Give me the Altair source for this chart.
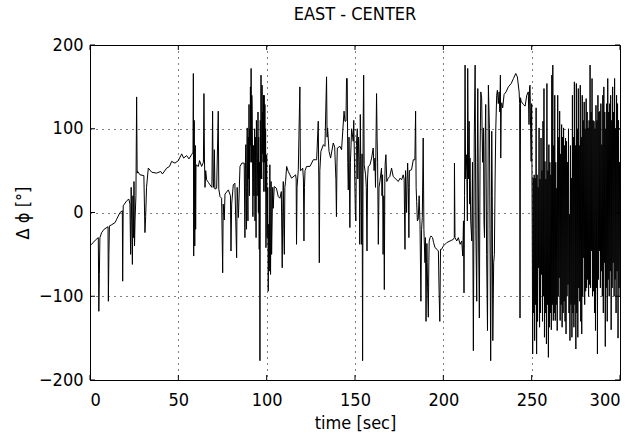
import altair as alt
import pandas as pd
import numpy as np

# ---- data (time in s, phase difference in degrees) ----
segA_t = [0, 0.9, 3, 4.7, 5.0, 5.3, 5.6, 6.6, 8, 10.2, 10.4, 10.7, 11.0, 12, 14.2, 15.1, 17, 18.3, 18.5, 18.8,
          20.8, 22.0, 22.6, 23.0, 23.3, 23.6, 24.0, 24.3, 24.6, 24.9, 25.2, 25.5, 26.0, 26.4, 26.7, 27, 28.3, 30.5, 31.1, 31.5,
          32, 33, 35, 37.7, 40, 41, 43.4, 45, 46.2, 48.1]
segA_v = [-40, -38, -33, -30, -118, -74, -30, -24, -20, -17, -106, -50, -16, -15, -12, -8, 0, 2, -82, 8,
          14, 16, 10, -50, 30, -10, -62, 20, -30, 37, -40, -9, 20, 138, 47, 49, 45, 44, -24, -5,
          30, 53, 48, 47, 49, 46, 53, 55, 61, 59]

segB1_t = [50, 51.9, 53, 54.7, 56, 57.5, 58.3, 58.5, 58.7, 59, 59.3, 59.6, 59.8, 60, 61.3, 62, 63.2, 64.2, 64.5, 64.8,
           65.1, 65.5, 66, 67, 67.9, 69, 69.4, 69.7, 70.0, 70.4, 70.7, 71.7, 72.6, 72.9, 73.6, 74.5, 75.1, 75.4, 76, 76.4,
           78.3, 79.5, 79.8, 80.2, 81.1, 82, 83, 83.3, 84, 84.9, 86, 87.3, 87.7]
segB1_v = [62, 70, 65, 68, 64, 69, 72, 166, -52, 110, -40, 80, -20, 57, 55, 62, 55, 60, 142, 64,
           30, 50, 39, 36, 33, 30, 121, 40, 30, 75, 28, 29, 121, 28, 19, 17, -72, 10, -9, 22,
           27, 20, -46, 10, 33, 35, -54, 30, -6, 55, 59, 59, -30]

segB2_t = [88, 88.2, 88.4, 88.6, 88.8, 89.0, 89.2, 89.4, 89.6, 89.8, 90.0, 90.2, 90.4, 90.6, 90.8, 91.0, 91.2, 91.4,
           91.6, 91.8, 92.0, 92.2, 92.5, 92.8, 93.0, 93.2, 93.4, 93.7, 94.0, 94.2, 94.4, 94.6, 94.9, 95.1, 95.3, 95.5,
           95.8, 96.0, 96.2, 96.4, 96.6, 96.8, 97.0, 97.2, 97.4, 97.6, 97.8, 98.0, 98.2, 98.4, 98.6, 98.8, 99.0, 99.2,
           99.4, 99.6]
segB2_v = [60, 81, 20, -20, 70, 101, 30, -10, 90, 40, 129, 20, 100, 60, 150, 80, 172, 60,
           140, 123, 70, -5, 80, 20, 61, 100, -10, 90, -30, 110, 80, 20, 65, 120, 0, 90,
           -44, 60, -177, 110, 40, 164, 60, 40, 152, 70, 120, 60, 140, 25, 140, 60, 129, 25,
           100, -42]

segC_t = [100, 100.3, 100.6, 100.9, 101.2, 101.5, 101.8, 102.2, 102.5, 102.8, 103.4, 103.7, 104.3, 105.5, 106.6, 107.5,
          108.3, 108.8, 109.1, 109.4, 109.7, 110, 110.3, 110.7, 111.3, 112.2, 114.1, 116.4, 116.7, 116.9, 117.2, 117.9,
          118.8, 119.1, 119.4, 120.4, 120.8, 121.1, 121.4, 121.7, 122.6, 124.5, 126.4, 128.3, 129.2, 129.5, 129.8, 130.1,
          130.7, 132.1, 133, 133.9, 134.2, 134.5, 135.3, 136.2, 137.7, 138.5, 139.2, 139.5, 139.8, 140, 141.5, 142.4,
          143.8, 144.3, 144.9, 145.2, 145.6, 145.9, 146.2, 146.6, 147.1, 147.4, 148.1, 149]
segC_v = [69, -30, 30, -94, -14, -70, 57, -74, 37, -50, 30, 5, 31, 29, 19, 17,
          25, -66, 0, 37, -20, -50, 30, 37, 55, 49, 41, 45, 40, -38, 30, 51,
          150, 50, 50, 53, 40, -34, 30, 50, 55, 55, 63, 63, 109, 40, -60, 50,
          73, 81, 79, 162, 90, 101, 73, 65, 83, 78, 39, -5, 60, 77, 79, 75,
          121, 109, 109, 160, 160, 60, 27, 90, -18, 60, 100, 85]

segD_t = [149.3, 149.7, 150.2, 150.5, 150.8, 151.3, 151.6, 152, 152.4, 152.7, 153, 153.3, 153.7, 154, 154.3, 154.6,
          154.9, 155.2, 156, 156.4, 156.8, 157.1, 157.5, 158.5, 159.4, 160.3, 160.8, 161.3, 161.6, 162.2, 162.5, 162.8,
          163.2, 163.6, 164.1, 165, 165.3, 165.6, 165.9, 166.3, 166.6, 166.9, 167.1, 167.5, 168, 168.8, 169.7, 170.7,
          171.6, 172.6, 174.5, 175.5, 176.4, 177.3, 177.8, 178.3, 178.6, 179.2, 179.5, 179.8, 180.2, 180.5, 180.8, 182,
          183, 183.9, 184.3, 184.6, 184.9, 185.3, 185.8, 186.3, 186.8, 187.3, 187.7, 188.1, 188.6, 189, 189.6, 189.9,
          190.2, 190.5, 190.7, 191.1, 191.5, 191.8, 192, 192.5, 193, 193.9, 194.5, 195.3, 196.4, 197.2, 197.6, 198,
          198.4, 199]
segD_v = [110, 60, 0, -10, 80, 100, 40, 90, 61, -38, 117, 50, -38, 70, -177, 100,
          164, 57, 45, 30, -46, 40, 55, 57, 65, 77, 50, 65, 30, 142, 90, 60,
          -38, 30, 37, 53, 20, 45, -50, 20, -92, 40, 59, 69, 37, 41, 43, 53,
          43, 41, 37, 41, 39, 45, 40, -44, 50, 0, 40, 59, 30, -30, 50, 51,
          63, 63, 121, 30, 13, -10, -8, 20, -14, -106, -20, -6, 89, -20, -60, -30,
          -130, -60, -37, -90, -125, -60, -34, -30, -28, -30, -36, -42, -44, -46, -94, -130,
          -44, -44]

segE_t = [200, 201.9, 203.8, 205.7, 206.2, 206.3, 206.6, 207.6, 208.5, 209.5, 210.4, 211, 211.4, 211.7, 212, 212.3,
          212.6, 213, 213.3, 213.6, 213.8, 214.2, 214.6, 214.9, 215.1, 215.5, 216.1, 216.5, 217, 217.5, 218, 218.4,
          218.9, 219.2, 219.5, 220, 220.4, 220.8, 221.2, 221.7, 222.2, 222.7, 223, 223.3, 223.6, 224, 224.5, 225,
          225.5, 226.1, 226.4, 226.8, 227.4, 227.7, 228, 228.5, 228.9, 229.3, 229.7, 230.2, 230.6, 231.1, 231.6, 232,
          232.3, 232.5, 232.8, 233.1, 233.6, 234.4, 235.5, 236.8, 238.4, 239.7, 241, 241.9, 242.9, 243.2, 243.4, 243.7,
          244, 245.3, 246.3, 247.2, 248.1, 248.5, 248.8, 249.1, 249.4, 249.7, 250]
segE_v = [-40, -36, -34, -32, -30, 59, -30, -34, -30, -38, -34, -52, -10, -96, 20, 176,
          40, 69, 49, -10, 172, 40, 109, 10, 65, -10, -34, 60, -165, 90, 176, -20,
          -106, 60, 148, -40, -126, 70, 144, 137, 60, 101, -10, -30, 80, 129, -50, -141,
          152, 100, -20, -177, 97, 20, -153, -60, -50, 40, 101, 140, 146, 130, 144, 120,
          164, 65, 130, 131, 125, 141, 144, 150, 154, 160, 166, 162, 144, 130, -126, 137,
          133, 129, 127, 140, 144, 105, 150, 152, 100, 61, 130]

# dense, evenly sampled stretch from 250.3 s to 300 s
segF_start, segF_end = 250.3, 300
segF1_v = [-14, -169, 41, -120, 45, -153, 41, -110, 125, -169, 45, -130, 30, -66, 101, -137, 40, -120, 89, -74,
           50, -130, 109, -100, 148, -149, 61, -120, 40, -157, 154, -110, 50, -173, 81, -137, 60, -120, 45, -140]
segF2_v = [164, -110, 176, -129, 80, -120, 140, -129, 60, -110, 29, -141, 140, -100, 90, -78, 121, -129, 70, -110,
           105, -137, 90, -120, 101, -106, 80, -130, 89, -145, 85, -100, 60, -86, 100, -120, -2, -153, 80, -110,
           41, -149, 140, -120, 90, -137, 156, -110, 80, -163, 154, -120, 100, -149, 148, -90, 80, -106, 152, -130,
           90, -145, 140, -100, 110, -54, 132, -110, 100, -94, 136, -90, 120, -80, 101, -100, 110, -86, 176, -90,
           120, -46, 160, -100, 110, -94, 109, -120, 100, -141]
segF3_v = [128, -90, 110, -169, 140, -80, 120, -46, 121, -90, 130, -70, 81, -100, 140, -120, 150, -60, 120, -160,
           100, -90, 130, -130, 160, -80, 120, -100, 130, -70, 140, -140, 110, -90, 150, -60, 120, -100, 160, -80,
           100, -120, 140, -70, 130, -150, 110, -90, 60, -100]

x_ticks = [0, 50, 100, 150, 200, 250, 300]
y_ticks = [-200, -100, 0, 100, 200]

# ---- assemble ----
segF_v = segF1_v + segF2_v + segF3_v
segF_t = list(np.linspace(segF_start, segF_end, len(segF_v)))
t_all = segA_t + segB1_t + segB2_t + segC_t + segD_t + segE_t + segF_t
v_all = segA_v + segB1_v + segB2_v + segC_v + segD_v + segE_v + segF_v
df = pd.DataFrame({"t": t_all, "v": v_all})
df["i"] = range(len(df))

FONT = "DejaVu Sans Condensed, Liberation Sans, sans-serif"
W, H = 530, 335
xscale = alt.Scale(domain=[0, 300], nice=False, zero=False)
yscale = alt.Scale(domain=[-200, 200], nice=False, zero=False)

common_axis = dict(grid=True, gridColor="black", gridDash=[1, 5], gridOpacity=1, gridWidth=1,
                   tickSize=0, domain=False, labelFont=FONT, labelFontSize=18, labelColor="black",
                   titleFont=FONT, titleFontSize=18, titleFontWeight="normal", titleColor="black")

line = alt.Chart(df).mark_line(color="black", strokeWidth=1, clip=True).encode(
    x=alt.X("t:Q", scale=xscale,
            axis=alt.Axis(values=x_ticks, title="time [sec]", labelPadding=11, titlePadding=5, **common_axis)),
    y=alt.Y("v:Q", scale=yscale,
            axis=alt.Axis(values=y_ticks, title="Δ ϕ [°]", labelPadding=7, titlePadding=6, **common_axis)),
    order="i:Q",
)

xt = pd.DataFrame({"t": x_ticks})
yt = pd.DataFrame({"v": y_ticks})
tick_b = alt.Chart(xt).mark_rule(color="black", strokeWidth=1).encode(
    x=alt.X("t:Q", scale=xscale), y=alt.value(H), y2=alt.value(H - 5))
tick_t = alt.Chart(xt).mark_rule(color="black", strokeWidth=1).encode(
    x=alt.X("t:Q", scale=xscale), y=alt.value(0), y2=alt.value(5))
tick_l = alt.Chart(yt).mark_rule(color="black", strokeWidth=1).encode(
    y=alt.Y("v:Q", scale=yscale), x=alt.value(0), x2=alt.value(5))
tick_r = alt.Chart(yt).mark_rule(color="black", strokeWidth=1).encode(
    y=alt.Y("v:Q", scale=yscale), x=alt.value(W), x2=alt.value(W - 5))

chart = alt.layer(line, tick_b, tick_t, tick_l, tick_r).properties(
    width=W, height=H,
    title=alt.TitleParams("EAST - CENTER", font=FONT, fontSize=18, fontWeight="normal", color="black", offset=12),
    autosize="none",
    padding={"left": 90, "top": 45, "right": 16, "bottom": 64},
    background="white",
).configure_view(stroke="black", strokeWidth=1)

chart.save("out.html", embed_options={"renderer": "svg", "actions": False})
